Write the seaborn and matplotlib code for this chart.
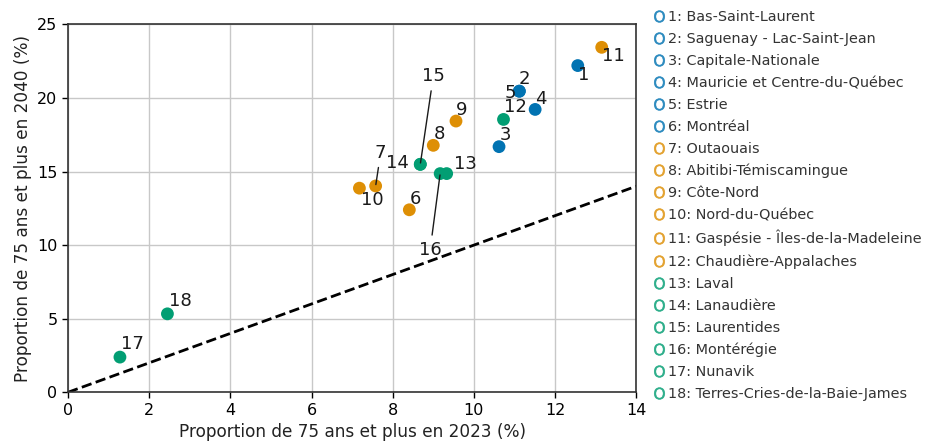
import matplotlib
matplotlib.use("Agg")
import matplotlib.pyplot as plt
from matplotlib.lines import Line2D
import seaborn as sns
import pandas as pd

# ---- data ----
ids = list(range(1, 19))
regions = ["Bas-Saint-Laurent", "Saguenay - Lac-Saint-Jean", "Capitale-Nationale",
           "Mauricie et Centre-du-Québec", "Estrie", "Montréal", "Outaouais",
           "Abitibi-Témiscamingue", "Côte-Nord", "Nord-du-Québec",
           "Gaspésie - Îles-de-la-Madeleine", "Chaudière-Appalaches", "Laval",
           "Lanaudière", "Laurentides", "Montérégie", "Nunavik",
           "Terres-Cries-de-la-Baie-James"]
pct_2023 = [12.56, 11.12, 10.62, 11.51, 11.12, 8.41, 7.58, 9.00, 9.56, 7.18,
            13.15, 10.73, 9.33, 8.68, 8.68, 9.17, 1.28, 2.45]
pct_2040 = [22.20, 20.46, 16.69, 19.22, 20.46, 12.40, 14.02, 16.78, 18.43, 13.87,
            23.44, 18.54, 14.86, 15.49, 15.49, 14.86, 2.39, 5.33]
point_group = [0, 0, 0, 0, 0, 1, 1, 1, 1, 1, 1, 2, 2, 2, 2, 2, 2, 2]
legend_group = [0] * 6 + [1] * 6 + [2] * 6
x_ticks = [0, 2, 4, 6, 8, 10, 12, 14]
y_ticks = [0, 5, 10, 15, 20, 25]

# ---- layout of point labels (offsets in pixels) ----
label_offsets = {1: (6, -9), 2: (5, 12), 3: (6, 12), 4: (6, 10), 5: (-9, -2),
                 6: (6, 11), 7: (5, 33), 8: (6, 11), 9: (6, 11), 10: (13, -12),
                 11: (12, -9), 12: (12, 12), 13: (19, 10), 14: (-23, 1),
                 15: (13, 88), 16: (-10, -76), 17: (12, 13), 18: (13, 13)}
with_line = {7, 15, 16}

palette = sns.color_palette("colorblind")[:3]

df = pd.DataFrame({"id": ids, "x": pct_2023, "y": pct_2040, "g": point_group})

fig = plt.figure(figsize=(9.25, 4.43), dpi=100)
ax = fig.add_axes([0.0735, 0.1145, 0.6143, 0.8305])

ax.grid(True, color="#c8c8c8", linewidth=1.0, zorder=0)
ax.set_axisbelow(True)

ax.plot([0, 14], [0, 14], linestyle="--", color="black", linewidth=2, zorder=2)

sns.scatterplot(data=df, x="x", y="y", hue="g", palette=palette, s=85,
                edgecolor=None, linewidth=0, legend=False, ax=ax, zorder=3)

for i, xv, yv in zip(ids, pct_2023, pct_2040):
    dx, dy = label_offsets[i]
    props = dict(arrowstyle="-", color="#1a1a1a", lw=1.0, shrinkA=2, shrinkB=1) if i in with_line else None
    ax.annotate(str(i), xy=(xv, yv), xytext=(dx, dy), textcoords="offset pixels",
                ha="center", va="center", fontsize=13, color="#1a1a1a",
                arrowprops=props, zorder=4)

ax.set_xlim(0, 14)
ax.set_ylim(0, 25)
ax.set_xticks(x_ticks)
ax.set_yticks(y_ticks)
ax.tick_params(labelsize=11.5, length=4, width=1)
for sp in ax.spines.values():
    sp.set_color("#333333")
    sp.set_linewidth(1.2)
ax.set_xlabel("Proportion de 75 ans et plus en 2023 (%)", fontsize=12.2, color="#222222")
ax.set_ylabel("Proportion de 75 ans et plus en 2040 (%)", fontsize=12.2, color="#222222")

handles = [Line2D([], [], linestyle="", marker=r"$\mathregular{O}$", markersize=8.5,
                  markeredgewidth=0.4, color=palette[g], alpha=0.8) for g in legend_group]
labels = [f"{i}: {r}" for i, r in zip(ids, regions)]
fig.legend(handles, labels, loc="upper left", bbox_to_anchor=(0.6955, 1.0),
           frameon=False, fontsize=10.35, handlelength=0.7, handletextpad=0.3,
           labelspacing=0.55, borderaxespad=0.32, labelcolor="#333333")

fig.savefig("out.png", dpi=100)
